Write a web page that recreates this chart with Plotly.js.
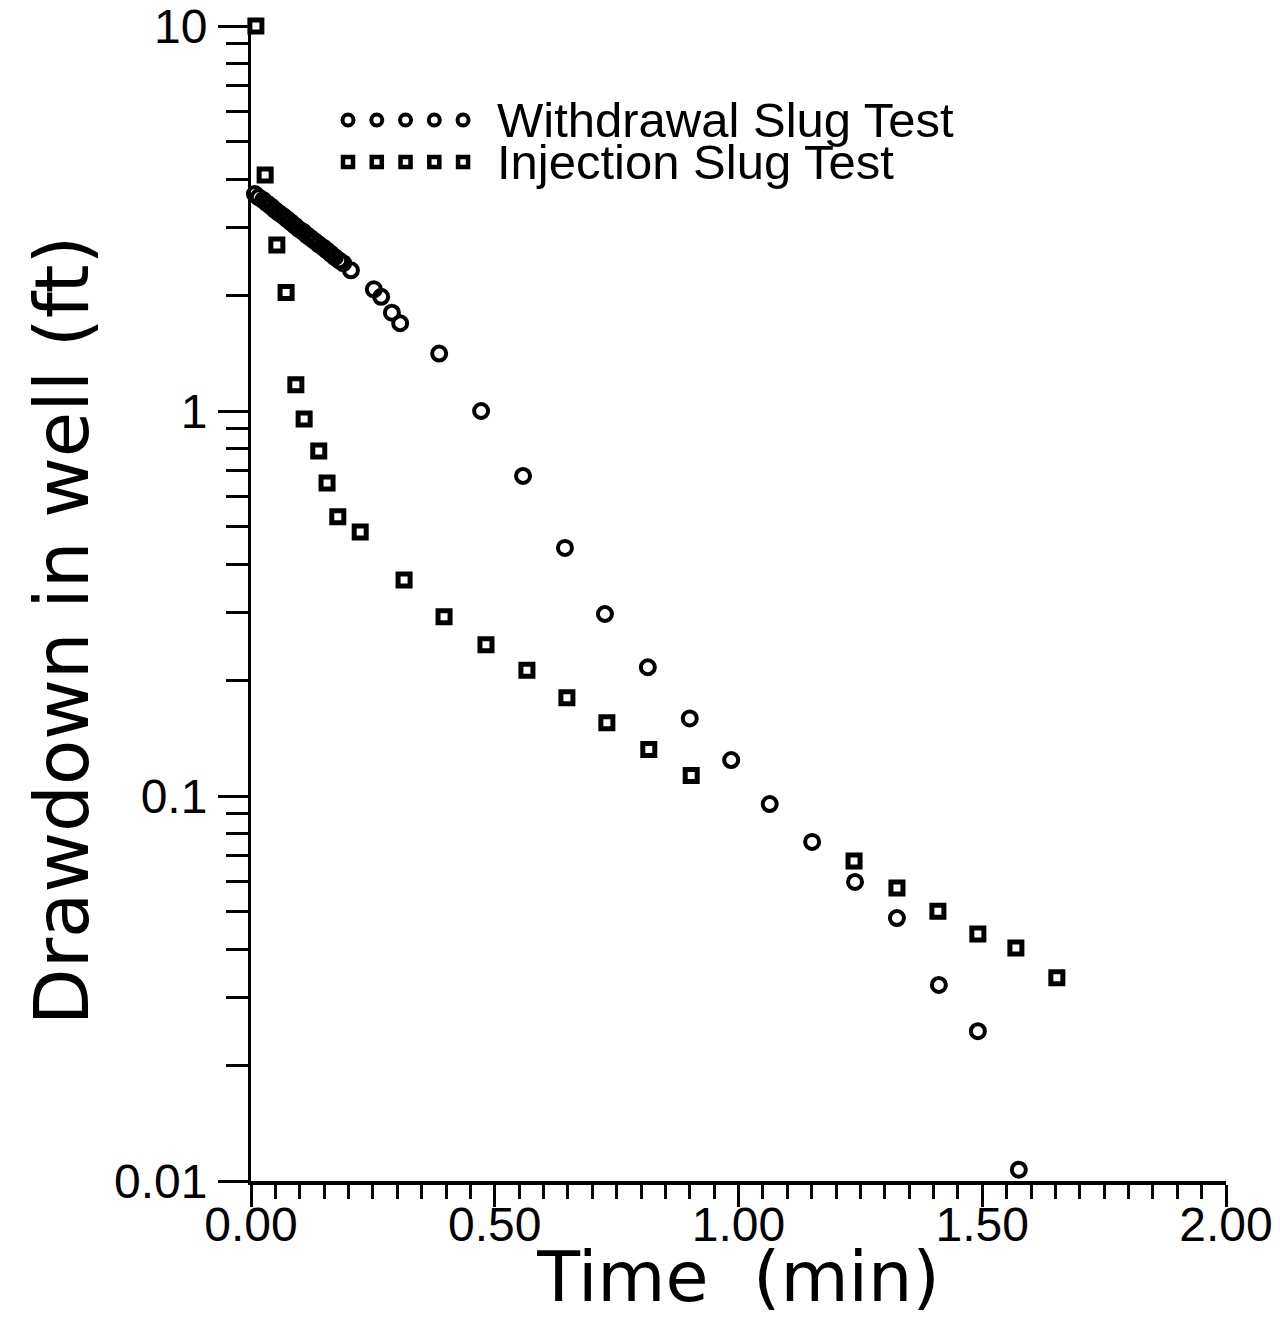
<!DOCTYPE html>
<html>
<head>
<meta charset="utf-8">
<script src="https://cdn.plot.ly/plotly-3.0.1.min.js"></script>
<style>
  html, body { margin: 0; padding: 0; background: #ffffff; }
  #chart { width: 1280px; height: 1318px; }
</style>
</head>
<body>
<div id="chart"></div>
<script>
// ---------------- data ----------------
const withdrawalTime = [
  0.008, 0.016, 0.025, 0.033, 0.041, 0.049, 0.057, 0.066, 0.074, 0.082,
  0.090, 0.098, 0.107, 0.115, 0.123, 0.131, 0.139, 0.148, 0.156, 0.164,
  0.172, 0.181, 0.189, 0.205, 0.252, 0.267, 0.289, 0.306, 0.386, 0.472,
  0.558, 0.644, 0.726, 0.814, 0.900, 0.985, 1.064, 1.151, 1.239, 1.325,
  1.411, 1.491, 1.575
];
const withdrawalDrawdown = [
  3.66, 3.59, 3.53, 3.46, 3.40, 3.33, 3.27, 3.21, 3.15, 3.09,
  3.03, 2.97, 2.92, 2.86, 2.81, 2.76, 2.71, 2.66, 2.61, 2.56,
  2.51, 2.46, 2.42, 2.32, 2.07, 1.98, 1.80, 1.69, 1.41, 1.00,
  0.678, 0.441, 0.297, 0.216, 0.159, 0.124, 0.0953, 0.0760, 0.0598, 0.0482,
  0.0323, 0.0245, 0.0107
];
const injectionTime = [
  0.010, 0.029, 0.053, 0.072, 0.092, 0.109, 0.139, 0.156, 0.178, 0.224,
  0.314, 0.396, 0.482, 0.566, 0.648, 0.730, 0.816, 0.903, 1.237, 1.325,
  1.409, 1.491, 1.569, 1.653
];
const injectionDrawdown = [
  10.0, 4.10, 2.70, 2.03, 1.17, 0.953, 0.787, 0.650, 0.531, 0.485,
  0.364, 0.292, 0.247, 0.212, 0.180, 0.155, 0.132, 0.113, 0.0678, 0.0577,
  0.0502, 0.0438, 0.0403, 0.0337
];
const seriesNames = ['Withdrawal Slug Test', 'Injection Slug Test'];
const yTickVals = [0.01, 0.1, 1, 10];
const yTickText = ['0.01', '0.1', '1', '10'];
const xTickVals = [0, 0.5, 1.0, 1.5, 2.0];
const xTickText = ['0.00', '0.50', '1.00', '1.50', '2.00'];
const minorMultipliers = [2, 3, 4, 5, 6, 7, 8, 9];
const decades = [0.01, 0.1, 1];

// ---------------- build ----------------
const yMinorVals = [];
decades.forEach(d => minorMultipliers.forEach(m => yMinorVals.push(+(d * m).toPrecision(3))));

const black = '#000000';
const clear = 'rgba(255,255,255,0)';

const traces = [
  {
    x: withdrawalTime, y: withdrawalDrawdown, name: seriesNames[0],
    type: 'scatter', mode: 'markers', cliponaxis: false, showlegend: false,
    marker: { symbol: 'circle', size: 14, color: clear, line: { width: 4, color: black } }
  },
  {
    x: injectionTime, y: injectionDrawdown, name: seriesNames[1],
    type: 'scatter', mode: 'markers', cliponaxis: false, showlegend: false,
    marker: { symbol: 'square', size: 12, color: clear, line: { width: 5, color: black } }
  }
];

// legend keys: a row of five symbols per series, drawn on an overlay axis (0..1 of the plot area)
const keyCount = 5, keyX0 = 0.0995, keyStep = 0.0295;
const keyRowsY = [0.9186, 0.8823];
const keySymbols = ['circle', 'square'];
const keySizes = [11, 10];
const keyLineWidths = [4, 4.5];
keyRowsY.forEach((ry, i) => {
  const kx = [], ky = [];
  for (let k = 0; k < keyCount; k++) { kx.push(keyX0 + k * keyStep); ky.push(ry); }
  traces.push({
    x: kx, y: ky, xaxis: 'x2', yaxis: 'y2', type: 'scatter', mode: 'markers',
    showlegend: false, hoverinfo: 'skip', cliponaxis: false,
    marker: { symbol: keySymbols[i], size: keySizes[i], color: clear, line: { width: keyLineWidths[i], color: black } }
  });
});

const tickFont = { family: 'Liberation Sans, Arial, sans-serif', size: 48, color: black };

const layout = {
  width: 1280, height: 1318,
  paper_bgcolor: '#ffffff', plot_bgcolor: '#ffffff',
  margin: { l: 251, r: 54, t: 26, b: 137 },
  showlegend: false,
  xaxis: {
    range: [0, 2], showgrid: false, zeroline: false,
    showline: true, linecolor: black, linewidth: 4,
    ticks: 'outside', ticklen: 22, tickwidth: 3, tickcolor: black,
    tickvals: xTickVals, ticktext: xTickText, tickfont: tickFont,
    ticklabelstandoff: -24, ticklabeloverflow: 'allow',
    minor: { dtick: 0.05, ticks: 'outside', ticklen: 14, tickwidth: 3, tickcolor: black, showgrid: false },
    title: { text: 'Time\u00a0\u00a0(min)', font: { family: 'DejaVu Sans, sans-serif', size: 70, color: black }, standoff: 4 }
  },
  yaxis: {
    type: 'log', range: [-2, 1], showgrid: false, zeroline: false,
    showline: true, linecolor: black, linewidth: 3,
    ticks: 'outside', ticklen: 30, tickwidth: 3, tickcolor: black,
    tickvals: yTickVals, ticktext: yTickText, tickfont: tickFont,
    ticklabelstandoff: 1, ticklabeloverflow: 'allow',
    minor: { tickvals: yMinorVals, ticks: 'outside', ticklen: 22, tickwidth: 3, tickcolor: black, showgrid: false },
    title: { text: 'Drawdown in well (ft)', font: { family: 'DejaVu Sans, sans-serif', size: 74, color: black }, standoff: 2 }
  },
  xaxis2: { overlaying: 'x', range: [0, 1], visible: false, fixedrange: true },
  yaxis2: { overlaying: 'y', range: [0, 1], visible: false, fixedrange: true },
  annotations: seriesNames.map((nm, i) => ({
    text: nm, xref: 'x2', yref: 'y2', x: 0.2503, y: keyRowsY[i],
    xanchor: 'left', yanchor: 'middle', showarrow: false,
    font: { family: 'Liberation Sans, Arial, sans-serif', size: 49, color: black }
  }))
};

Plotly.newPlot('chart', traces, layout, { staticPlot: true, displayModeBar: false }).then(() => {
  // the reference's y title sits a little below the centre of the axis
  document.querySelectorAll('.ytitle').forEach(el => {
    el.setAttribute('transform', 'translate(0,27) ' + (el.getAttribute('transform') || ''));
  });
});
</script>
</body>
</html>
